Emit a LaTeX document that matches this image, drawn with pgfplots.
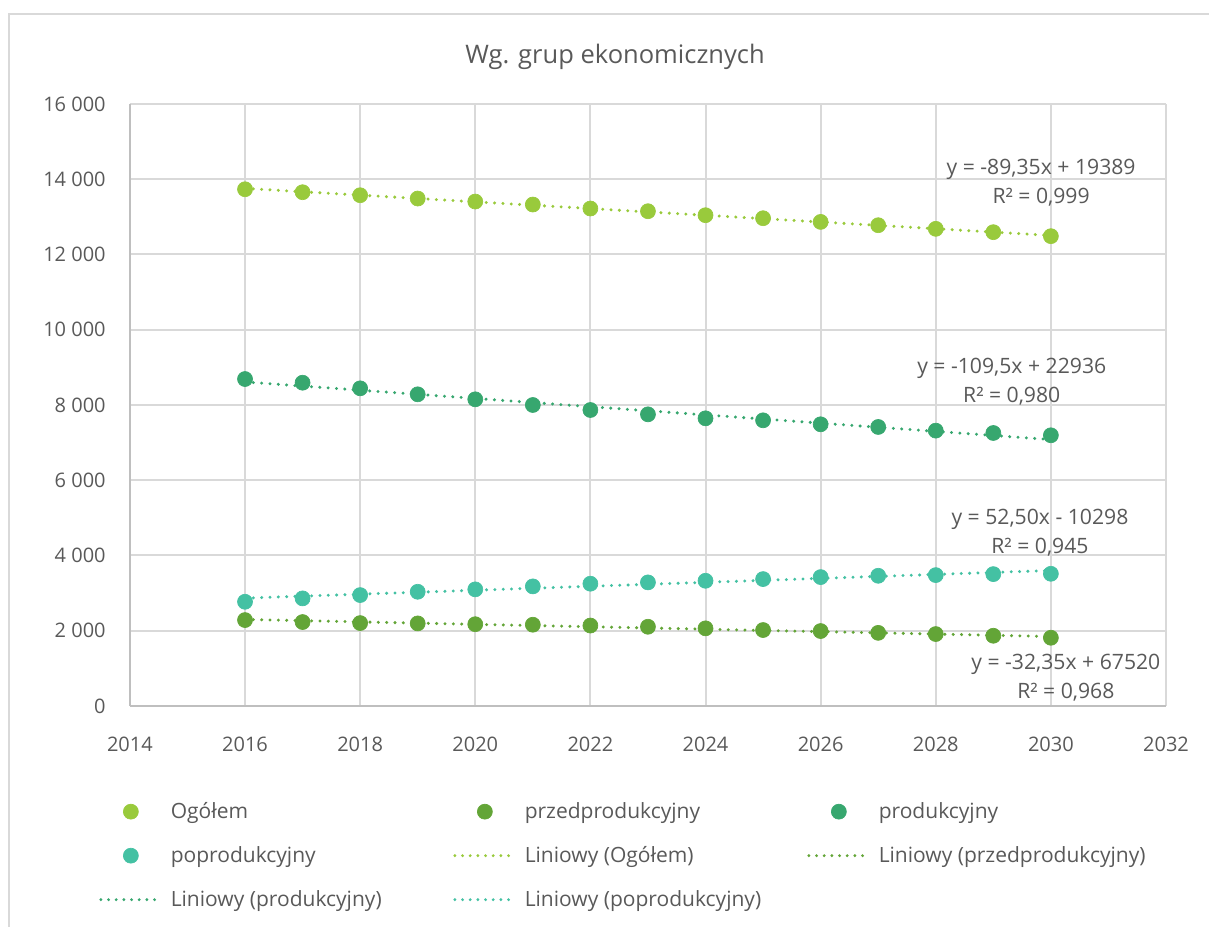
\documentclass[border=0pt]{standalone}
\usepackage{pgfplots}
\pgfplotsset{compat=1.18}
\usepackage{fontspec}
\setmainfont{Open Sans}
\definecolor{cA}{HTML}{99CA3C}
\definecolor{cB}{HTML}{63A537}
\definecolor{cC}{HTML}{37A76F}
\definecolor{cD}{HTML}{44C1A3}
\definecolor{txt}{HTML}{595959}
\definecolor{gridc}{HTML}{D9D9D9}
\definecolor{axc}{HTML}{BFBFBF}
\pgfplotsset{
  dotl/.style={line width=2pt, line cap=round, dash pattern=on 0pt off 5pt},
  markleg/.style={legend image code/.code={
      \path[draw=none,fill=none] (0pt,0pt) -- (36pt,0pt);
      \draw[##1, only marks] plot coordinates {(18pt,0pt)};}},
  lineleg/.style={legend image code/.code={
      \path[draw=none,fill=none] (0pt,0pt) -- (36pt,0pt);
      \draw[##1, dash pattern=on 0pt off 4.6pt, line width=1.9pt] (0pt,0pt) -- (36pt,0pt);}},
}
\newcommand{\legtxt}[1]{\makebox[174.5pt][l]{\hspace{5pt}#1}}
\begin{document}
\begin{tikzpicture}
\path[use as bounding box] (0pt,0pt) rectangle (725.4pt,556.2pt);
\draw[gridc, line width=1.2pt] (5.4pt,0pt) -- (5.4pt,547.8pt) -- (725.4pt,547.8pt);
\node[txt, font=\fontsize{15.3}{18}\selectfont] at (369pt,522pt) {Wg. grup ekonomicznych};
\begin{axis}[
  at={(77.94pt,132.6pt)}, anchor=south west,
  scale only axis, width=621.66pt, height=361.2pt,
  xmin=2014, xmax=2032, ymin=0, ymax=16000,
  scaled y ticks=false, scaled x ticks=false,
  xtick={2014,2016,2018,2020,2022,2024,2026,2028,2030,2032},
  xticklabels={2014,2016,2018,2020,2022,2024,2026,2028,2030,2032},
  ytick={0,2000,4000,6000,8000,10000,12000,14000,16000},
  yticklabels={0,2 000,4 000,6 000,8 000,10 000,12 000,14 000,16 000},
  major tick length=0pt,
  grid=major, major grid style={gridc, line width=1.2pt},
  axis x line*=bottom, axis y line*=left,
  axis line style={axc, line width=1.2pt, -},
  tick label style={txt, font=\fontsize{12}{14}\selectfont},
  xticklabel style={yshift=-14.8pt},
  yticklabel style={xshift=-11pt},
  clip=false,
  legend columns=3,
  legend style={at={(-0.0347,-0.1329)}, anchor=north west, draw=none, fill=none,
    font=\fontsize{12.6}{14}\selectfont, text=txt,
    nodes={inner sep=0pt, minimum height=26.4pt},
    column sep=0pt, row sep=0pt},
  legend cell align=left,
]
% data series
\addplot[only marks, mark=*, color=cA, mark size=4.5pt, markleg] coordinates {
(2016,13734) (2017,13655) (2018,13575) (2019,13487) (2020,13407) (2021,13328) (2022,13222) (2023,13150)
(2024,13044) (2025,12964) (2026,12866) (2027,12778) (2028,12682) (2029,12593) (2030,12487)};
\addlegendentry{\legtxt{Ogółem}}
\addplot[only marks, mark=*, color=cB, mark size=4.5pt, markleg] coordinates {
(2016,2284) (2017,2231) (2018,2204) (2019,2195) (2020,2174) (2021,2160) (2022,2138) (2023,2106)
(2024,2064) (2025,2019) (2026,1992) (2027,1944) (2028,1912) (2029,1867) (2030,1814)};
\addlegendentry{\legtxt{przedprodukcyjny}}
\addplot[only marks, mark=*, color=cC, mark size=4.5pt, markleg] coordinates {
(2016,8690) (2017,8592) (2018,8443) (2019,8284) (2020,8151) (2021,8000) (2022,7867) (2023,7752)
(2024,7646) (2025,7593) (2026,7487) (2027,7416) (2028,7318) (2029,7256) (2030,7195)};
\addlegendentry{\legtxt{produkcyjny}}
\addplot[only marks, mark=*, color=cD, mark size=4.5pt, markleg] coordinates {
(2016,2770) (2017,2860) (2018,2948) (2019,3036) (2020,3100) (2021,3179) (2022,3250) (2023,3285)
(2024,3328) (2025,3373) (2026,3426) (2027,3461) (2028,3479) (2029,3505) (2030,3514)};
\addlegendentry{\legtxt{poprodukcyjny}}
% trend lines
\addplot[cA, dotl, lineleg] coordinates {(2016,13757) (2030,12506)};
\addlegendentry{\legtxt{Liniowy (Ogółem)}}
\addplot[cB, dotl, lineleg] coordinates {(2016,2300) (2030,1847)};
\addlegendentry{\legtxt{Liniowy (przedprodukcyjny)}}
\addplot[cC, dotl, lineleg] coordinates {(2016,8612) (2030,7080)};
\addlegendentry{\legtxt{Liniowy (produkcyjny)}}
\addplot[cD, dotl, lineleg] coordinates {(2016,2867) (2030,3602)};
\addlegendentry{\legtxt{Liniowy (poprodukcyjny)}}
% equation labels
\node[txt, align=center, font=\fontsize{12.7}{17.4}\selectfont] at (axis cs:2029.83,13900) {y = -89,35x + 19389\\R² = 0,999};
\node[txt, align=center, font=\fontsize{12.7}{17.4}\selectfont] at (axis cs:2029.32,8625) {y = -109,5x + 22936\\R² = 0,980};
\node[txt, align=center, font=\fontsize{12.7}{17.4}\selectfont] at (axis cs:2029.81,4611) {y = 52,50x - 10298\\R² = 0,945};
\node[txt, align=center, font=\fontsize{12.7}{17.4}\selectfont] at (axis cs:2030.26,745) {y = -32,35x + 67520\\R² = 0,968};
\end{axis}
\end{tikzpicture}
\end{document}
